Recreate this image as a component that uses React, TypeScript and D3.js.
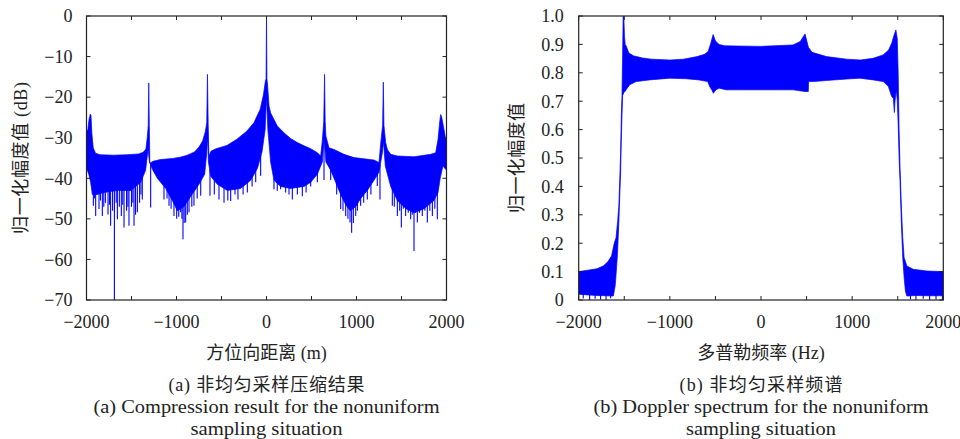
import React from 'react';
import * as d3 from 'd3';

// ---------- axis data ----------
const xTicks = [-2000, -1500, -1000, -500, 0, 500, 1000, 1500, 2000];
const xTickLabels = [-2000, -1000, 0, 1000, 2000];
const dbTicks = [0, -10, -20, -30, -40, -50, -60, -70];
const ampTicks = [0, 0.1, 0.2, 0.3, 0.4, 0.5, 0.6, 0.7, 0.8, 0.9, 1.0];

// ---------- (a) compression result: envelope of the dense response (x m, dB) ----------
const compUpper: [number, number][] = [
  [-2000, -28.5], [-1985, -28], [-1972, -25.5], [-1958, -24.2], [-1950, -24.5], [-1940, -29],
  [-1925, -32.5], [-1900, -33.8], [-1850, -34.2], [-1700, -34.3], [-1550, -34.2], [-1420, -34],
  [-1370, -33.6], [-1340, -32.8], [-1325, -30], [-1314, -27], [-1308, -16.5], [-1302, -27],
  [-1296, -36.3], [-1260, -35.8], [-1180, -35.4], [-1040, -35.1], [-960, -34.8], [-880, -34.3],
  [-800, -33.5], [-750, -32.3], [-710, -30.8], [-680, -28.5], [-664, -26.3], [-656, -14.4],
  [-648, -26.5], [-640, -34.5], [-615, -33.3], [-560, -32.7], [-440, -31.9], [-330, -30.4],
  [-220, -28.4], [-140, -26.3], [-70, -23], [-35, -19.5], [-12, -16], [-5, -15.5], [0, 0],
  [5, -15.5], [12, -17], [28, -22.2], [46, -23.9], [83, -25.5], [120, -27.1], [194, -28.8],
  [268, -30.2], [343, -31.2], [417, -32], [491, -32.7], [565, -33.7], [602, -34.5], [620, -30.8],
  [636, -26], [645, -14.4], [652, -26], [660, -29.6], [694, -32.5], [750, -32.9], [861, -34.1],
  [972, -34.9], [1083, -35.2], [1194, -35.5], [1250, -36.1], [1268, -31.6], [1290, -27],
  [1298, -16.3], [1305, -27], [1324, -31.2], [1343, -32.9], [1380, -34.1], [1454, -34.5],
  [1639, -34.7], [1824, -34.1], [1880, -33.7], [1906, -30.4], [1925, -26], [1935, -24.3],
  [1945, -24.8], [1965, -27.1], [1991, -30.4], [2000, -30],
];
const compLower: [number, number][] = [
  [-2000, -37.5], [-1975, -39], [-1954, -41], [-1935, -44], [-1880, -44], [-1806, -43.5],
  [-1657, -43], [-1509, -43], [-1398, -41], [-1343, -38], [-1317, -33], [-1300, -36],
  [-1268, -37.8], [-1213, -40], [-1120, -42.5], [-1046, -45.5], [-991, -48], [-917, -47],
  [-843, -44.5], [-750, -41.5], [-687, -39], [-665, -34], [-655, -30], [-645, -36], [-620, -39.5],
  [-546, -41.5], [-435, -43], [-287, -42.5], [-176, -40.5], [-100, -37.5], [-50, -33.5],
  [-15, -28], [0, -20], [15, -28], [46, -36], [83, -40.5], [157, -42], [268, -42.5], [417, -42],
  [491, -41], [565, -39], [620, -36], [640, -30], [660, -36], [713, -38], [750, -40], [824, -44],
  [880, -46.5], [930, -48], [991, -47], [1046, -45], [1120, -43], [1194, -40.5], [1250, -38.5],
  [1285, -34], [1300, -31], [1320, -37], [1380, -42], [1454, -45.5], [1550, -47.5], [1640, -48.5],
  [1750, -47.5], [1860, -45.5], [1906, -43.5], [1930, -40], [1960, -37], [2000, -38],
];
// downward spikes below the dense band (x m, lowest dB)
const compSpikes: [number, number][] = [
  [-1924, -46.8], [-1910, -45], [-1898, -49.3], [-1861, -47.6], [-1845, -45.5], [-1824, -49.3],
  [-1808, -47], [-1790, -46], [-1761, -48.9], [-1745, -46.5], [-1732, -51.7], [-1710, -48],
  [-1690, -70], [-1670, -46], [-1657, -50.1], [-1635, -47], [-1613, -49.3], [-1597, -46.5],
  [-1583, -52.1], [-1555, -48], [-1540, -47], [-1528, -51.7], [-1500, -47], [-1485, -46],
  [-1472, -51.7], [-1455, -49], [-1435, -48.4], [-1410, -46], [-1395, -44], [-1380, -45.2],
  [-1287, -47.2], [-1139, -45.2], [-1105, -45], [-1083, -46.8], [-1060, -47.5], [-1028, -49.3],
  [-998, -50], [-975, -49.5], [-954, -48.4], [-940, -50], [-928, -55], [-915, -51], [-898, -50.9],
  [-880, -49], [-861, -48.4], [-830, -47], [-806, -46.8], [-770, -45], [-731, -44.3],
  [-628, -44.3], [-580, -44], [-528, -45.2], [-472, -46], [-430, -45.5], [-398, -45.6],
  [-350, -44], [-317, -45.2], [-260, -44], [-213, -43.5], [-160, -42], [-120, -41], [-65, -39.4],
  [83, -42.7], [120, -43.1], [157, -42.7], [213, -43.5], [250, -44], [287, -45.2], [343, -44],
  [398, -44.4], [440, -43.5], [491, -42], [565, -41], [639, -40.4], [713, -40.4], [780, -44],
  [824, -47.6], [850, -48], [880, -49.3], [905, -50], [928, -50.9], [946, -53.4], [965, -51],
  [991, -49.3], [1010, -48], [1046, -46.8], [1080, -46], [1120, -45.2], [1160, -44],
  [1231, -41.9], [1261, -45.2], [1398, -46.8], [1420, -47], [1454, -49.3], [1480, -48],
  [1498, -52.1], [1520, -47.5], [1546, -49.3], [1575, -48.5], [1602, -50.1], [1620, -49],
  [1639, -57.9], [1655, -48.5], [1676, -50.9], [1700, -48.5], [1731, -49.3], [1760, -48],
  [1787, -50.9], [1815, -48], [1843, -49.3], [1870, -47.5], [1898, -50.1],
];

// ---------- (b) Doppler spectrum: envelope (Hz, normalized amplitude) ----------
const specUpper: [number, number][] = [
  [-2000, 0.1], [-1900, 0.105], [-1800, 0.11], [-1730, 0.12], [-1680, 0.135], [-1640, 0.155],
  [-1610, 0.2], [-1590, 0.22], [-1572, 0.28], [-1560, 0.33], [-1550, 0.42], [-1540, 0.52],
  [-1533, 0.64], [-1525, 0.72], [-1518, 0.87], [-1512, 1.0], [-1505, 1.0], [-1498, 0.93],
  [-1490, 0.9], [-1480, 0.895], [-1450, 0.87], [-1400, 0.86], [-1300, 0.852], [-1200, 0.848],
  [-1000, 0.845], [-850, 0.848], [-700, 0.857], [-620, 0.865], [-580, 0.875], [-550, 0.905],
  [-525, 0.935], [-500, 0.912], [-460, 0.9], [-400, 0.895], [0, 0.893], [350, 0.898],
  [430, 0.91], [483, 0.937], [520, 0.89], [560, 0.872], [720, 0.857], [940, 0.848],
  [1090, 0.845], [1230, 0.851], [1340, 0.863], [1400, 0.88], [1435, 0.905], [1455, 0.928],
  [1480, 0.951], [1495, 0.92], [1505, 0.8], [1515, 0.6], [1525, 0.47], [1540, 0.33],
  [1555, 0.22], [1570, 0.15], [1600, 0.12], [1670, 0.108], [1820, 0.102], [2000, 0.1],
];
const specLower: [number, number][] = [
  [-2000, 0.02], [-1900, 0.018], [-1800, 0.016], [-1700, 0.015], [-1620, 0.014], [-1600, 0.05],
  [-1592, 0.08], [-1575, 0.16], [-1560, 0.27], [-1550, 0.36], [-1540, 0.45], [-1533, 0.56],
  [-1525, 0.65], [-1518, 0.72], [-1505, 0.73], [-1490, 0.735], [-1470, 0.745], [-1440, 0.758],
  [-1370, 0.769], [-1225, 0.775], [-1000, 0.781], [-820, 0.779], [-680, 0.775], [-585, 0.769],
  [-560, 0.75], [-540, 0.74], [-523, 0.728], [-494, 0.74], [-460, 0.746], [-384, 0.74],
  [0, 0.74], [355, 0.74], [483, 0.734], [519, 0.734], [522, 0.769], [574, 0.769], [720, 0.773],
  [940, 0.778], [1086, 0.781], [1232, 0.775], [1342, 0.769], [1397, 0.752], [1433, 0.717],
  [1452, 0.71], [1463, 0.66], [1470, 0.7], [1485, 0.74], [1495, 0.7], [1505, 0.62],
  [1515, 0.5], [1525, 0.42], [1540, 0.27], [1555, 0.15], [1570, 0.08], [1585, 0.03],
  [1600, 0.014], [1700, 0.016], [1820, 0.015], [2000, 0.015],
];
const specSpikes: [number, number][] = [
  [-1950, 0.005], [-1880, 0.0], [-1820, 0.004], [-1760, 0.002], [-1700, 0.0], [-1650, 0.006],
  [1640, 0.003], [1700, 0.0], [1780, 0.004], [1850, 0.0], [1920, 0.002], [1990, 0.0],
];

const BLUE = '#0000ff';
const INK = '#222';
const LATIN = "'Liberation Serif', 'Noto Sans CJK SC', serif";
const FS = 18;

type Box = { left: number; right: number; top: number; bottom: number };

function Panel(props: {
  box: Box;
  yDomain: [number, number];
  yTicks: number[];
  yFmt: (v: number) => string;
  upper: [number, number][];
  lower: [number, number][];
  spikes: [number, number][];
  yTitle: string;
  yTitleX: number;
  yTitleLen: number;
  xTitle: string;
  caps: string[];
  capLens: number[];
  yLabelGap: number;
}) {
  const { box } = props;
  const x = d3.scaleLinear().domain([-2000, 2000]).range([box.left, box.right]);
  const y = d3.scaleLinear().domain(props.yDomain).range([box.bottom, box.top]);
  const line = d3.line<[number, number]>().x((d) => x(d[0])).y((d) => y(d[1]));
  const poly = props.upper.concat(props.lower.slice().reverse());
  const bandPath = (line(poly) || '') + 'Z';
  const lowAt = d3
    .scaleLinear()
    .domain(props.lower.map((d) => d[0]))
    .range(props.lower.map((d) => d[1]));
  const cx = (box.left + box.right) / 2;
  const cy = (box.top + box.bottom) / 2;
  const tl = 4;
  return (
    <g>
      <clipPath id={'clip' + Math.round(box.left)}>
        <rect x={box.left} y={box.top} width={box.right - box.left} height={box.bottom - box.top} />
      </clipPath>
      <g clipPath={`url(#clip${Math.round(box.left)})`}>
        <path d={bandPath} fill={BLUE} stroke={BLUE} strokeWidth={0.7} strokeLinejoin="round" />
        {props.spikes.map((s, i) => (
          <line
            key={i}
            x1={x(s[0])}
            x2={x(s[0])}
            y1={y(lowAt(s[0])) - 2}
            y2={y(s[1])}
            stroke={BLUE}
            strokeWidth={1.1}
          />
        ))}
      </g>
      <rect
        x={box.left}
        y={box.top}
        width={box.right - box.left}
        height={box.bottom - box.top}
        fill="none"
        stroke={INK}
        strokeWidth={1.2}
      />
      {xTicks.map((t) => (
        <g key={'xt' + t}>
          <line x1={x(t)} x2={x(t)} y1={box.bottom} y2={box.bottom - tl} stroke={INK} strokeWidth={1} />
          <line x1={x(t)} x2={x(t)} y1={box.top} y2={box.top + tl} stroke={INK} strokeWidth={1} />
        </g>
      ))}
      {props.yTicks.map((t) => (
        <g key={'yt' + t}>
          <line x1={box.left} x2={box.left + tl} y1={y(t)} y2={y(t)} stroke={INK} strokeWidth={1} />
          <line x1={box.right} x2={box.right - tl} y1={y(t)} y2={y(t)} stroke={INK} strokeWidth={1} />
          <text
            x={box.left - props.yLabelGap}
            y={y(t)}
            dy="0.35em"
            textAnchor="end"
            fontFamily={LATIN}
            fontSize={FS}
            fill={INK}
          >
            {props.yFmt(t)}
          </text>
        </g>
      ))}
      {xTickLabels.map((t) => (
        <text
          key={'xl' + t}
          x={x(t)}
          y={box.bottom + 28}
          textAnchor="middle"
          fontFamily={LATIN}
          fontSize={FS}
          fill={INK}
        >
          {t < 0 ? '\u2212' + Math.abs(t) : String(t)}
        </text>
      ))}
      <text
        transform={`translate(${props.yTitleX},${cy}) rotate(-90)`}
        textAnchor="middle"
        dy="0.35em"
        fontFamily={LATIN}
        fontSize={FS}
        fill={INK}
        textLength={props.yTitleLen}
        lengthAdjust="spacing"
      >
        {props.yTitle}
      </text>
      <text x={cx} y={359} textAnchor="middle" fontFamily={LATIN} fontSize={FS} fill={INK}>
        {props.xTitle}
      </text>
      <text
        x={cx}
        y={391}
        textAnchor="middle"
        fontFamily={LATIN}
        fontSize={FS}
        fill={INK}
        textLength={props.capLens[0]}
        lengthAdjust="spacing"
      >
        {props.caps[0]}
      </text>
      <text
        x={cx}
        y={413}
        textAnchor="middle"
        fontFamily={LATIN}
        fontSize={FS}
        fill={INK}
        textLength={props.capLens[1]}
        lengthAdjust="spacingAndGlyphs"
      >
        {props.caps[1]}
      </text>
      <text
        x={cx}
        y={435}
        textAnchor="middle"
        fontFamily={LATIN}
        fontSize={FS}
        fill={INK}
        textLength={props.capLens[2]}
        lengthAdjust="spacingAndGlyphs"
      >
        {props.caps[2]}
      </text>
    </g>
  );
}

export default function App() {
  const dbFmt = (v: number) => (v < 0 ? '\u2212' + Math.abs(v) : '0');
  const ampFmt = (v: number) => (v === 0 ? '0' : v.toFixed(1));
  return (
    <svg
      width={960}
      height={439}
      style={{ position: 'absolute', left: 0, top: 0, background: '#fff' }}
    >
      <rect width={960} height={439} fill="#fff" />
      <Panel
        box={{ left: 86.5, right: 446.5, top: 16, bottom: 300 }}
        yDomain={[-70, 0]}
        yTicks={dbTicks}
        yFmt={dbFmt}
        upper={compUpper}
        lower={compLower}
        spikes={compSpikes}
        yTitle="归一化幅度值 (dB)"
        yTitleX={21}
        yTitleLen={152}
        xTitle="方位向距离 (m)"
        caps={['(a) 非均匀采样压缩结果', '(a) Compression result for the nonuniform', 'sampling situation']}
        capLens={[196, 346, 152]}
        yLabelGap={14}
      />
      <Panel
        box={{ left: 578.7, right: 943.3, top: 16, bottom: 300 }}
        yDomain={[0, 1]}
        yTicks={ampTicks}
        yFmt={ampFmt}
        upper={specUpper}
        lower={specLower}
        spikes={specSpikes}
        yTitle="归一化幅度值"
        yTitleX={517}
        yTitleLen={110}
        xTitle="多普勒频率 (Hz)"
        caps={['(b) 非均匀采样频谱', '(b) Doppler spectrum for the nonuniform', 'sampling situation']}
        capLens={[163, 335, 150]}
        yLabelGap={15}
      />
    </svg>
  );
}
